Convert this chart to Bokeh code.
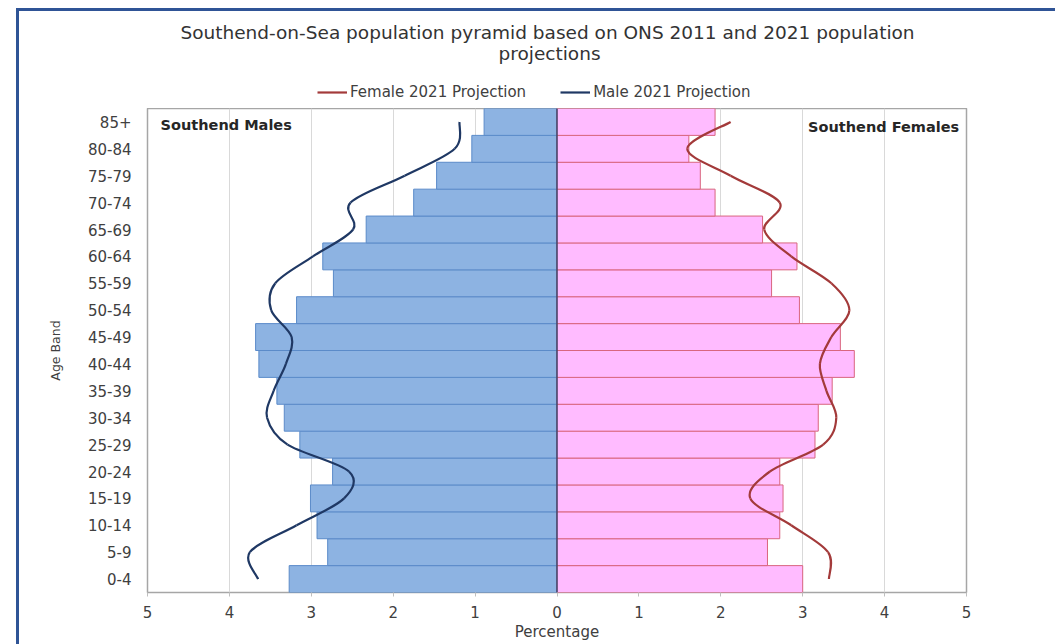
from bokeh.plotting import figure
from bokeh.models import FixedTicker, Legend, LegendItem, Label, Span, ColumnDataSource
from bokeh.layouts import column
from bokeh.embed import file_html
from bokeh.resources import INLINE

# ---- data (bottom to top) ----
age_bands = ["0-4", "5-9", "10-14", "15-19", "20-24", "25-29", "30-34", "35-39", "40-44",
             "45-49", "50-54", "55-59", "60-64", "65-69", "70-74", "75-79", "80-84", "85+"]
male_2011 = [3.27, 2.80, 2.93, 3.01, 2.74, 3.14, 3.33, 3.42, 3.64,
             3.68, 3.18, 2.73, 2.86, 2.33, 1.75, 1.47, 1.04, 0.89]
female_2011 = [3.00, 2.57, 2.72, 2.76, 2.72, 3.15, 3.19, 3.36, 3.63,
               3.46, 2.96, 2.62, 2.93, 2.51, 1.93, 1.75, 1.61, 1.93]
male_2021 = [3.65, 3.75, 3.18, 2.60, 2.54, 3.29, 3.54, 3.46, 3.31,
             3.24, 3.49, 3.44, 2.98, 2.49, 2.52, 1.86, 1.25, 1.19]
female_2021 = [3.32, 3.31, 2.86, 2.36, 2.60, 3.25, 3.41, 3.29, 3.21,
               3.35, 3.57, 3.35, 2.86, 2.53, 2.72, 2.12, 1.59, 2.12]
x_ticks = [-5, -4, -3, -2, -1, 0, 1, 2, 3, 4, 5]
x_tick_labels = ["5", "4", "3", "2", "1", "0", "1", "2", "3", "4", "5"]

title_line1 = "Southend-on-Sea population pyramid based on ONS 2011 and 2021 population"
title_line2 = "projections"

FONT = "DejaVu Sans"
TXT = "#404040"
MCOL = "#1F3864"
FCOL = "#A33A3A"
W = 1036
HEAD_H = 97
LEFT, RIGHT = 128, 89

n = len(age_bands)
ypos = list(range(n))

# ---------- header figure: title lines + legend ----------
head = figure(width=W, height=HEAD_H, x_range=(LEFT, W - RIGHT), y_range=(0, HEAD_H),
              output_backend="svg", toolbar_location=None, title_location=None,
              min_border_left=LEFT, min_border_right=RIGHT, min_border_top=0, min_border_bottom=0,
              background_fill_color="white", border_fill_color="white")
head.axis.visible = False
head.grid.visible = False
head.outline_line_color = None

head.add_layout(Label(x=528, y=76, text=title_line1, text_align="center", text_baseline="middle",
                      text_font=FONT, text_font_size="18.5px", text_color="#333333"))
head.add_layout(Label(x=530, y=55, text=title_line2, text_align="center", text_baseline="middle",
                      text_font=FONT, text_font_size="18.5px", text_color="#333333"))

nan = float("nan")
f_dummy = head.line(x=[nan, nan], y=[nan, nan], line_color=FCOL, line_width=2.2)
m_dummy = head.line(x=[nan, nan], y=[nan, nan], line_color=MCOL, line_width=2.2)
legend = Legend(items=[LegendItem(label="Female 2021 Projection", renderers=[f_dummy]),
                       LegendItem(label="Male 2021 Projection", renderers=[m_dummy])],
                orientation="horizontal", location=(170, 6), margin=0, padding=4,
                spacing=34, glyph_width=30, glyph_height=20, label_height=20,
                label_standoff=3, border_line_color=None, background_fill_alpha=0,
                label_text_font=FONT, label_text_font_size="15px", label_text_color=TXT)
head.add_layout(legend)

# ---------- main pyramid ----------
p = figure(width=W, height=633 - HEAD_H, x_range=(-5, 5), y_range=(-0.5, n - 0.5),
           output_backend="svg", toolbar_location=None, title_location=None,
           min_border_left=LEFT, min_border_right=RIGHT, min_border_top=0, min_border_bottom=52,
           background_fill_color="white", border_fill_color="white")

p.xgrid.ticker = FixedTicker(ticks=x_ticks)
p.xgrid.grid_line_color = "#D9D9D9"
p.xgrid.grid_line_width = 1
p.ygrid.visible = False
p.outline_line_color = "#A6A6A6"
p.outline_line_width = 1.5

src = ColumnDataSource(dict(y=ypos, mleft=[-v for v in male_2011], fright=female_2011))
p.hbar(y="y", left="mleft", right=0, height=1.0, source=src,
       fill_color="#8DB3E2", line_color="#5B8BC9", line_width=1)
p.hbar(y="y", left=0, right="fright", height=1.0, source=src,
       fill_color="#FFBBFF", line_color="#D9667F", line_width=1)
p.add_layout(Span(location=0, dimension="height", line_color="#1F3A5F", line_width=1.2))


def smooth(xs, ys):
    m = len(xs)
    d = dict(x0=[], y0=[], x1=[], y1=[], cx0=[], cy0=[], cx1=[], cy1=[])
    for i in range(m - 1):
        a = max(i - 1, 0)
        b = min(i + 2, m - 1)
        d["x0"].append(xs[i]); d["y0"].append(ys[i])
        d["x1"].append(xs[i + 1]); d["y1"].append(ys[i + 1])
        d["cx0"].append(xs[i] + (xs[i + 1] - xs[a]) / 6.0)
        d["cy0"].append(ys[i] + (ys[i + 1] - ys[a]) / 6.0)
        d["cx1"].append(xs[i + 1] - (xs[b] - xs[i]) / 6.0)
        d["cy1"].append(ys[i + 1] - (ys[b] - ys[i]) / 6.0)
    return ColumnDataSource(d)


p.bezier(x0="x0", y0="y0", x1="x1", y1="y1", cx0="cx0", cy0="cy0", cx1="cx1", cy1="cy1",
         source=smooth([-v for v in male_2021], ypos), line_color=MCOL, line_width=2.2)
p.bezier(x0="x0", y0="y0", x1="x1", y1="y1", cx0="cx0", cy0="cy0", cx1="cx1", cy1="cy1",
         source=smooth(female_2021, ypos), line_color=FCOL, line_width=2.2)

p.add_layout(Label(x=-4.84, y=n - 1 - 0.13, text="Southend Males", text_font=FONT,
                   text_font_style="bold", text_font_size="14.5px", text_baseline="middle",
                   text_color="#262626"))
p.add_layout(Label(x=4.91, y=n - 1 - 0.2, text="Southend Females", text_font=FONT,
                   text_font_style="bold", text_font_size="14.5px", text_baseline="middle",
                   text_align="right", text_color="#262626"))

xa = p.xaxis[0]
xa.ticker = FixedTicker(ticks=x_ticks)
xa.major_label_overrides = {t: l for t, l in zip(x_ticks, x_tick_labels)}
xa.axis_label = "Percentage"
xa.axis_label_text_font = FONT
xa.axis_label_text_font_style = "normal"
xa.axis_label_text_font_size = "15px"
xa.axis_label_text_color = TXT
xa.axis_label_standoff = 2
xa.major_label_text_font = FONT
xa.major_label_text_font_size = "15px"
xa.major_label_text_color = TXT
xa.major_label_standoff = 9
xa.major_tick_in = 0
xa.major_tick_out = 4
xa.major_tick_line_color = "#BFBFBF"
xa.minor_tick_line_color = None
xa.axis_line_color = None

ya = p.yaxis[0]
ya.ticker = FixedTicker(ticks=ypos)
ya.major_label_overrides = {i: b for i, b in zip(ypos, age_bands)}
ya.axis_label = "Age Band"
ya.axis_label_text_font = FONT
ya.axis_label_text_font_style = "normal"
ya.axis_label_text_font_size = "12.5px"
ya.axis_label_text_color = TXT
ya.axis_label_standoff = 22
ya.major_label_text_font = FONT
ya.major_label_text_font_size = "15px"
ya.major_label_text_color = TXT
ya.major_label_standoff = 16
ya.major_tick_in = 0
ya.major_tick_out = 0
ya.major_tick_line_color = None
ya.minor_tick_line_color = None
ya.axis_line_color = None

layout = column(head, p, spacing=0, margin=(8, 0, 0, 16),
                styles={"border-top": "3px solid #2F5496", "border-left": "3px solid #2F5496"})

open("out.html", "w").write(file_html(layout, INLINE))
